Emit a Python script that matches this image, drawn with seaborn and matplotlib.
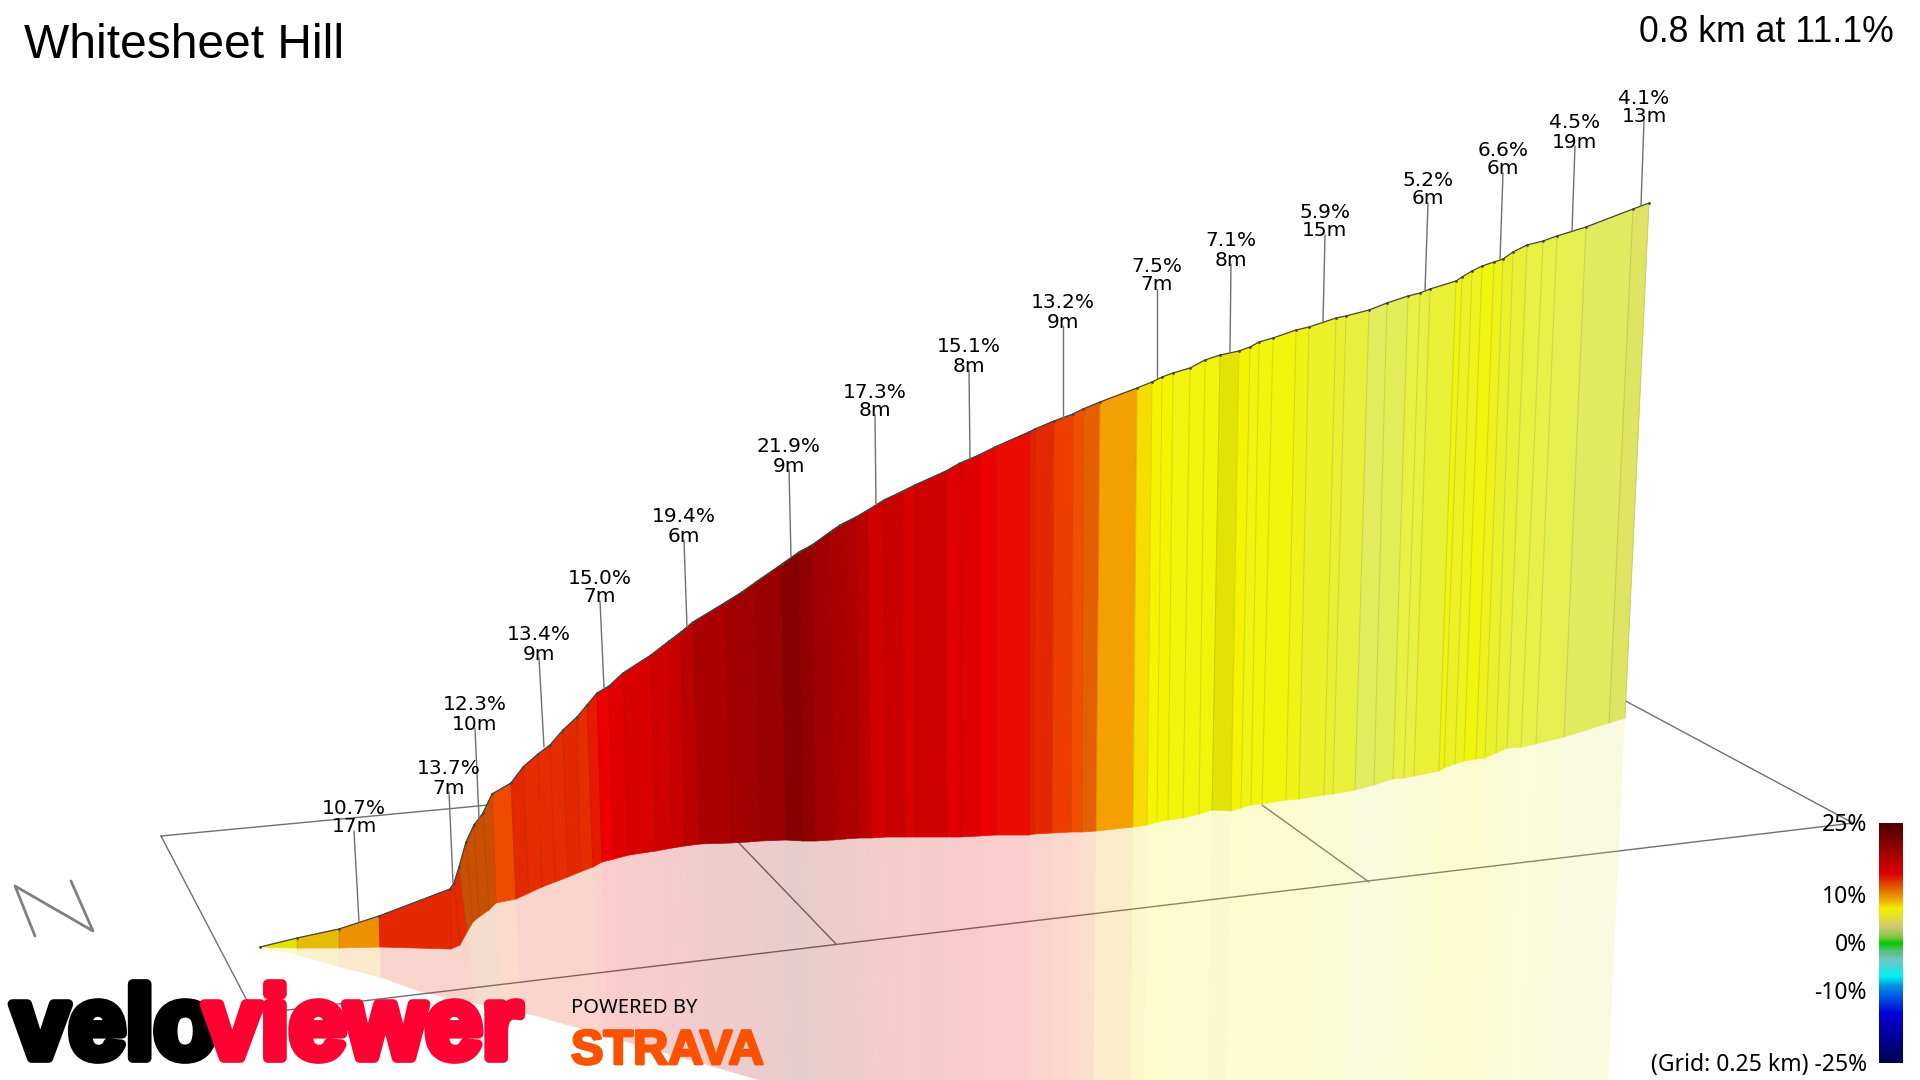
import numpy as np
import matplotlib
matplotlib.use("Agg")
import matplotlib.pyplot as plt
import matplotlib.patheffects as pe
from matplotlib.colors import LinearSegmentedColormap, Normalize
from matplotlib.patches import Polygon
import seaborn as sns

# ---- profile (screen projection of the climb) ----
top_x = [260,297,339,379,450,454,459,466,474,483,492,511,523,538,550,563,577,587,597,609,623,651,669,681,693,726,742,756,782,799,812,830,840,856,868,884,903,915,946,960,979,995,1029,1035,1054,1073,1083,1100,1137,1152,1162,1173,1190,1205,1220,1239,1250,1259,1273,1296,1309,1336,1346,1369,1387,1408,1420,1430,1456,1462,1472,1482,1494,1503,1513,1527,1543,1557,1586,1633,1649]
top_y = [947,938,929,916,889,883,867,842,825,813,794,783,767,754,745,730,717,705,693,686,673,655,641,632,622,602,592,582,564,552,545,532,525,517,510,500,491,485,471,463,455,447,432,429,421,414,409,402,388,382,377,373,368,360,355,351,347,342,338,330,327,318,316,310,303,296,293,289,281,277,271,266,262,259,252,245,241,236,227,209,203]
base_x = [260,297,339,380,451,460,467,473,479,489,496,516,529,542,555,568,580,593,602,614,629,656,672,685,700,731,748,760,786,803,816,833,845,859,871,887,905,916,947,961,979,995,1029,1034,1052,1071,1082,1096,1133,1147,1157,1168,1183,1199,1212,1231,1241,1251,1262,1286,1299,1324,1333,1355,1374,1393,1404,1414,1439,1444,1455,1464,1476,1485,1496,1507,1521,1536,1564,1609,1625]
base_y = [947,948,948,947,949,945,932,922,917,910,903,899,893,887,882,877,872,867,862,859,855,851,848,846,844,843,842,841,840,841,841,840,839,838,838,837,837,837,837,837,836,835,835,834,833,832,832,831,827,825,822,820,818,814,810,811,808,805,804,800,799,795,794,790,785,779,778,776,771,768,764,761,759,758,753,748,747,744,737,723,718]
grades = [7.5,9,10.5,13,13,13,11.6,11.6,11.6,11.6,12.2,13,12.9,12.9,12.9,13,12.9,13.3,14.2,15,15.5,16,16.5,17.5,
          19,19.8,20,20.5,22,21,20,19,18.5,17.5,16,16.5,15.5,16,15,15.2,14.3,13.6,13.2,13,12.5,12,11.3,10,8,7,7,6.3,6.3,6.3,7.5,
          7,6,6.3,6.3,5.9,5.5,5.3,5.1,4.1,4.2,4.9,4.9,5.2,6,5.6,5.7,6.2,5.8,5.4,5.2,4.9,4.7,4.5,4,3.9]

shadow_edge_x = [260,297,339,382,424,536,696,759,1700,1700,200]
shadow_edge_y = [947,955,967,978,993,1016,1062,1080,1080,600,600]

labels_pct = ["10.7%","13.7%","12.3%","13.4%","15.0%","19.4%","21.9%","17.3%","15.1%","13.2%","7.5%","7.1%","5.9%","5.2%","6.6%","4.5%","4.1%"]
labels_len = ["17m","7m","10m","9m","7m","6m","9m","8m","8m","9m","7m","8m","15m","6m","6m","19m","13m"]
label_x = [354,449,475,539,600,684,789,875,969,1063,1157,1231,1325,1428,1503,1575,1644]
label_y = [808,769,705,635,578,517,447,392,347,303,266,241,212,180,150,123,98]
foot_x = [359,453,479,544,604,687,791,876,970,1063,1157,1230,1323,1425,1500,1572,1641]
foot_y = [922,883,818,747,688,627,557,505,459,417,378,352,323,291,260,231,205]

grid_x = [161,1620,1853,254,161]
grid_y = [836,698,823,1014,836]
cross_x = [[738,836],[1262,1369]]
cross_y = [[842,944],[805,882]]
north_x = [35,15,93,71]
north_y = [936,886,931,881]

ramp_grade = [-25,-14.7,-7,-3.5,-1.5,0,1.5,3.4,4,4.5,5,5.5,6,7,7.5,8,9,10,11,11.3,11.6,12,12.5,13,13.5,14,15,16,18,20,21.9,25]
ramp_color = ["#000050","#0000d8","#00f0f0","#70c8c8","#40c080","#00cc00","#90c840","#d0c878","#e0ec5e","#e4f050","#e8f040","#ecf028","#f0f410","#f4f400","#e2e204","#f6dc00","#e4bc00","#f4a000","#e88400","#e66000","#c85000","#f24e00","#ee4000","#e42a00","#e81000","#f00000","#e20000","#d00000","#b40000","#a00000","#880000","#4d0000"]
legend_grade = [-25,-14.7,-9,-7,-3.5,-1.5,0,1.2,3.4,5,7.2,8.5,10,12,14.5,16,20,25]
legend_color = ["#000050","#0000d8","#0090e8","#00f0f0","#70c8c8","#50c070","#00cc00","#80c840","#d0c878","#e0dc40","#f0f000","#eebc00","#e88c00","#e05000","#dc0000","#cc0000","#900000","#4d0000"]
scale_ticks = ["25%","10%","0%","-10%","-25%"]
scale_values = [25,10,0,-10,-25]

# ---- drawing ----
sns.set_theme(style="white")
plt.rcParams["font.family"] = ["DejaVu Sans"]
fig = plt.figure(figsize=(19.2, 10.8), dpi=100, facecolor="white")
ax = fig.add_axes([0, 0, 1, 1])
ax.set_axis_off()

norm = Normalize(-25, 25)
cmap = LinearSegmentedColormap.from_list(
    "grade", [(norm(g), c) for g, c in zip(ramp_grade, ramp_color)], N=1024)
legend_cmap = LinearSegmentedColormap.from_list(
    "legend", [(norm(g), c) for g, c in zip(legend_grade, legend_color)], N=512)

GREY = "#707070"
sns.lineplot(x=grid_x, y=grid_y, sort=False, estimator=None, color=GREY, lw=1.0, ax=ax, zorder=1)
for cx, cy in zip(cross_x, cross_y):
    sns.lineplot(x=cx, y=cy, sort=False, estimator=None, color=GREY, lw=1.0, ax=ax, zorder=1)
sns.lineplot(x=north_x, y=north_y, sort=False, estimator=None, color="#808080", lw=2, ax=ax, zorder=1)

tx, ty, bx, by = map(np.array, (top_x, top_y, base_x, base_y))
clip = Polygon(np.column_stack([shadow_edge_x, shadow_edge_y]), transform=ax.transData)

# ground reflection: each wall strip carried on along its own edges
floor = 1100
sx = bx + (bx - tx) / np.maximum(by - ty, 1) * (floor - by)
for i, g in enumerate(grades):
    col = cmap(norm(g))
    s = ax.fill([bx[i], bx[i+1], sx[i+1], sx[i]], [by[i], by[i+1], floor, floor],
                color=col, alpha=0.2, lw=0, zorder=2)[0]
    s.set_clip_path(clip)
    ax.fill([tx[i], tx[i+1], bx[i+1], bx[i]], [ty[i], ty[i+1], by[i+1], by[i]],
            facecolor=col, edgecolor=col, lw=0.5, zorder=3)
    ax.plot([tx[i+1], bx[i+1]], [ty[i+1], by[i+1]], color="black", alpha=0.10, lw=0.8, zorder=4)

sns.lineplot(x=top_x, y=top_y, sort=False, estimator=None, color="#444444", lw=0.9,
             marker="o", markersize=2.0, markeredgewidth=0, ax=ax, zorder=5)

for p, m, x, y, fx, fy in zip(labels_pct, labels_len, label_x, label_y, foot_x, foot_y):
    ax.plot([x, fx], [y + 23, fy], color=GREY, lw=1.0, zorder=5)
    ax.text(x, y, p, ha="center", va="center", fontsize=14.5, color="black", zorder=6)
    ax.text(x, y + 19, m, ha="center", va="center", fontsize=14.5, color="black", zorder=6)

ax.text(24, 46, "Whitesheet Hill", fontsize=34.5, family="Liberation Sans", ha="left", va="center", color="black", zorder=7)
ax.text(1894, 33, "0.8 km at 11.1%", fontsize=25.7, family="Liberation Sans", ha="right", va="center", color="black", zorder=7)

# grade scale
grad = np.linspace(25, -25, 512).reshape(-1, 1)
ax.imshow(grad, cmap=legend_cmap, norm=norm, extent=(1879, 1903, 1063, 823), aspect="auto", zorder=7)
for t, v in zip(scale_ticks, scale_values):
    yy = 945 - v * 4.8
    txt = t if v != -25 else "(Grid: 0.25 km) -25%"
    ax.text(1867, yy, txt, ha="right", va="center", fontsize=16.5, family="Noto Sans", color="black", zorder=7)

# logos
heavy = dict(family="Liberation Sans", fontweight="bold", va="baseline", ha="left", zorder=8)
ax.text(12, 1058, "velo", color="black", fontsize=73.5,
        path_effects=[pe.withStroke(linewidth=7, foreground="black")], **heavy)
ax.text(204, 1058, "viewer", color="#ff0033", fontsize=73.5,
        path_effects=[pe.withStroke(linewidth=7, foreground="#ff0033")], **heavy)
ax.text(571, 1013, "POWERED BY", family="Noto Sans", fontweight="medium", fontsize=14.5, color="black", ha="left", va="baseline", zorder=8)
ax.text(571, 1064, "STRAVA", family="Liberation Sans", fontweight="bold", fontsize=35, color="#fc5200", ha="left", va="baseline",
        path_effects=[pe.withStroke(linewidth=2, foreground="#fc5200")], zorder=8)

ax.set_xlim(0, 1920)
ax.set_ylim(1080, 0)
fig.savefig("out.png", dpi=100, facecolor="white")
